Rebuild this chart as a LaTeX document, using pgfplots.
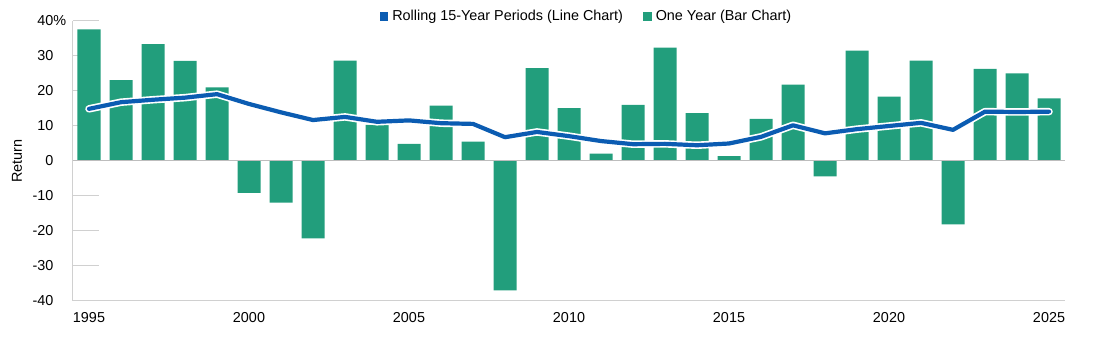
\documentclass[border=0pt]{standalone}
\usepackage{fontspec}
\setmainfont{Liberation Sans}
\usepackage{pgfplots}
\usepackage{pgfplotstable}
\pgfplotsset{compat=1.18}
\definecolor{barG}{HTML}{229E7C}
\definecolor{lineB}{HTML}{0B5CB2}
\definecolor{axG}{HTML}{D0D0D0}
\definecolor{zeroG}{HTML}{BDBDBD}

% idx = year - 1995
\pgfplotstableread{
idx bar roll
0 37.6 14.9
1 23.1 16.8
2 33.4 17.5
3 28.6 18.1
4 21.0 19.1
5 -9.1 16.3
6 -11.9 13.9
7 -22.1 11.7
8 28.7 12.6
9 10.3 11.2
10 4.9 11.6
11 15.8 10.8
12 5.5 10.6
13 -37.0 6.8
14 26.5 8.3
15 15.1 7.1
16 2.1 5.7
17 16.0 4.8
18 32.4 4.9
19 13.7 4.5
20 1.4 5.0
21 12.0 6.9
22 21.8 10.2
23 -4.4 7.9
24 31.5 9.1
25 18.4 10.0
26 28.7 10.9
27 -18.1 8.9
28 26.3 14.1
29 25.0 14.0
30 17.9 14.1
}\data

\begin{document}
\begin{tikzpicture}[font=\fontsize{14.4pt}{17pt}\selectfont]
\path[use as bounding box] (0,0) rectangle (1100pt,344pt);
\begin{axis}[
  at={(73pt,43pt)}, anchor=south west,
  scale only axis, width=992pt, height=280pt,
  xmin=-0.5, xmax=30.5, ymin=-40, ymax=40,
  axis x line*=bottom, axis y line*=left,
  axis line style={axG, line width=1pt, -},
  xtick={0,5,...,30},
  xticklabels={1995,2000,2005,2010,2015,2020,2025},
  ytick={-40,-30,...,40},
  yticklabels={-40,-30,-20,-10,0,10,20,30,40\rlap{\%}},
  major tick length=0pt,
  xticklabel style={yshift=-8pt},
  yticklabel style={anchor=east, xshift=-16pt},
  ylabel={Return},
  ylabel style={at={(axis description cs:-0.0565,0.5)}, anchor=center},
  legend style={at={(0.5176,1.018)}, anchor=center, draw=none, fill=none,
    legend columns=2, /tikz/every even column/.append style={column sep=18pt}},
  legend cell align=left,
]
\pgfplotsinvokeforeach{-30,-20,-10,10,20,30,40}{
  \draw[axG, line width=1pt] (axis cs:-0.5,#1) -- ++(26pt,0pt);
}
\addplot[ybar, bar width=23pt, fill=barG, draw=none, forget plot]
  table[x=idx, y=bar]{\data};
\draw[zeroG, line width=1pt] (axis cs:-0.5,0) -- (axis cs:30.5,0);
\addplot[white, line width=7.5pt, line join=round, line cap=round, forget plot]
  table[x=idx, y=roll]{\data};
\addplot[lineB, line width=4.2pt, line join=round, line cap=round, forget plot]
  table[x=idx, y=roll]{\data};
\addlegendimage{legend image code/.code={\fill[lineB] (0pt,-3.8pt) rectangle (7.7pt,3.8pt); \path[draw=none,fill=none] (0pt,0pt) -- (10.5pt,0pt);}}
\addlegendentry{Rolling 15-Year Periods (Line Chart)}
\addlegendimage{legend image code/.code={\fill[barG] (0pt,-3.8pt) rectangle (7.7pt,3.8pt); \path[draw=none,fill=none] (0pt,0pt) -- (10.5pt,0pt);}}
\addlegendentry{One Year (Bar Chart)}
\end{axis}
\end{tikzpicture}
\end{document}
